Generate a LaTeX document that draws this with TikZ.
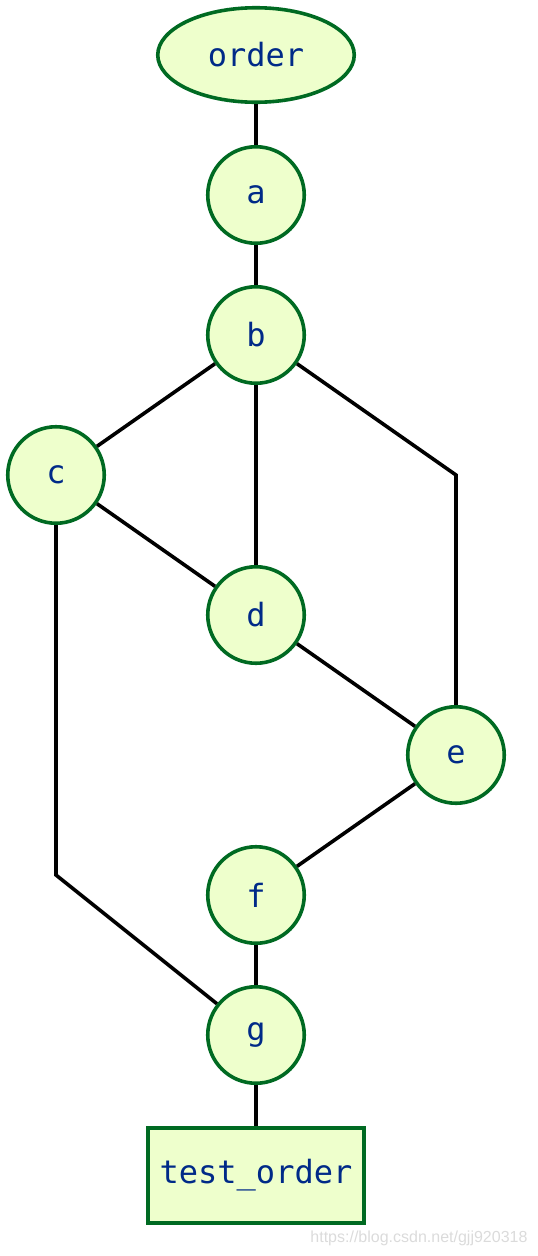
\documentclass[tikz,border=0pt]{standalone}
\usepackage{fontspec}
\newfontfamily\monofont{DejaVu Sans Mono}
\newfontfamily\markfont{Liberation Sans}
\usepackage{tikz}
\usetikzlibrary{shapes.geometric, arrows, positioning, calc}

\definecolor{nodefill}{HTML}{EEFFCC}
\definecolor{nodeline}{HTML}{006A22}
\definecolor{nodetext}{HTML}{002A88}

\tikzset{
    vertex/.style={circle, draw=nodeline, fill=nodefill, line width=3.6pt, minimum size=96.5pt, inner sep=0pt, text=nodetext, font=\monofont\fontsize{32}{32}\selectfont},
    startnode/.style={vertex, ellipse, minimum size=0pt, minimum width=196.5pt, minimum height=94.5pt},
    endnode/.style={vertex, rectangle, minimum size=0pt, minimum width=216.5pt, minimum height=95.5pt},
    link/.style={line width=3.6pt, black}
}

\begin{document}
\begin{tikzpicture}[x=1pt, y=-1pt]
        \useasboundingbox (0,0) rectangle (538,1256);

        % Sommets
        \node[startnode] (order) at (256,55) {order};
        \node[vertex] (a) at (256,195) {a};
        \node[vertex] (b) at (256,335) {b};
        \node[vertex] (c) at (56,475) {c};
        \node[vertex] (d) at (256,615) {d};
        \node[vertex] (e) at (456,755) {e};
        \node[vertex] (f) at (256,895) {f};
        \node[vertex] (g) at (256,1035) {g};
        \node[endnode] (test) at (256,1175.5) {test\textunderscore order};

        % Coudes
        \coordinate (be) at (456,475);
        \coordinate (cg) at (56,875);

        % Aretes
        \draw[link] (order) -- (a);
        \draw[link] (a) -- (b);
        \draw[link] (b) -- (c);
        \draw[link] (b) -- (d);
        \draw[link] (b) -- (be) -- (e);
        \draw[link] (c) -- (d);
        \draw[link] (c.south) -- (cg) -- (g);
        \draw[link] (d) -- (e);
        \draw[link] (e) -- (f);
        \draw[link] (f) -- (g);
        \draw[link] (g) -- (test);

        % Filigrane
        \node[text=black!14, font=\markfont\fontsize{16}{16}\selectfont, anchor=east] (mark) at (531,1238) {https://blog.csdn.net/gjj920318};

    \end{tikzpicture}
\end{document}
